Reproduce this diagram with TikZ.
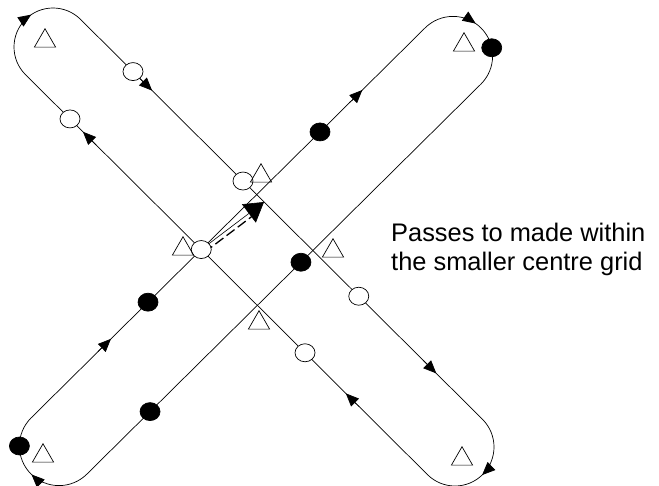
\documentclass[tikz,border=0pt]{standalone}
\usepackage{fontspec}
\setmainfont{Liberation Sans}
\usetikzlibrary{arrows.meta,calc,shapes.geometric}
\begin{document}
\begin{tikzpicture}[x=1bp,y=-1bp,
  loopline/.style={line width=0.7bp},
  opendot/.style={ellipse, draw, fill=white, line width=0.7bp, minimum width=20bp, minimum height=18bp, inner sep=0pt},
  filldot/.style={ellipse, draw, fill=black, line width=0.7bp, minimum width=20bp, minimum height=18bp, inner sep=0pt},
  cone/.style={regular polygon, regular polygon sides=3, draw, line width=0.7bp, minimum size=24.5bp, inner sep=0pt},
  flowtip/.style={-{Triangle[length=13bp,width=11bp]}, line width=0.7bp},
  lbl/.style={anchor=base west, inner sep=0pt, font=\fontsize{25.5}{30}\selectfont}
]
\useasboundingbox (0,0) rectangle (659,486);
% loop centres
\coordinate (C1) at (53,47);
\coordinate (C2) at (455,447);
\coordinate (C3) at (453,56);
\coordinate (C4) at (59,446);
\coordinate (A1s) at ($(C1)+(-45:39)$);
\coordinate (A1e) at ($(C2)+(-45:39)$);
\coordinate (A2s) at ($(C1)+(135:39)$);
\coordinate (A2e) at ($(C2)+(135:39)$);
\coordinate (B1s) at ($(C4)+(-135:39.6)$);
\coordinate (B1e) at ($(C3)+(-135:39.6)$);
\coordinate (B2s) at ($(C3)+(45:39.6)$);
\coordinate (B2e) at ($(C4)+(45:39.6)$);
% loops
\draw[loopline] (A1s) -- (A1e) arc[start angle=-45, end angle=135, radius=39] -- (A2s) arc[start angle=135, end angle=315, radius=39] -- cycle;
\draw[loopline] (B1s) -- (B1e) arc[start angle=-135, end angle=45, radius=39.6] -- (B2e) arc[start angle=45, end angle=225, radius=39.6] -- cycle;
% positions along lines
\path (A1s) -- (A1e)
  coordinate[pos=0.1304] (pA1a) coordinate[pos=0.404] (pA1b) coordinate[pos=0.692] (pA1c)
  coordinate[pos=0.145] (tA1a) coordinate[pos=0.178] (hA1a)
  coordinate[pos=0.852] (tA1b) coordinate[pos=0.885] (hA1b);
\path (A2s) -- (A2e)
  coordinate[pos=0.1109] (pA2a) coordinate[pos=0.6955] (pA2b)
  coordinate[pos=0.176] (tA2a) coordinate[pos=0.143] (hA2a)
  coordinate[pos=0.83] (tA2b) coordinate[pos=0.797] (hA2b);
\path (B1s) -- (B1e)
  coordinate[pos=0.297] (pB1a) coordinate[pos=0.7335] (pB1b)
  coordinate[pos=0.17] (tB1a) coordinate[pos=0.203] (hB1a)
  coordinate[pos=0.808] (tB1b) coordinate[pos=0.841] (hB1b);
\path (B2s) -- (B2e)
  coordinate[pos=0.457] (pB2a) coordinate[pos=0.84] (pB2b);
% flow arrows on lines
\draw[flowtip] (tA1a) -- (hA1a);
\draw[flowtip] (tA1b) -- (hA1b);
\draw[flowtip] (tA2a) -- (hA2a);
\draw[flowtip] (tA2b) -- (hA2b);
\draw[flowtip] (tB1a) -- (hB1a);
\draw[flowtip] (tB1b) -- (hB1b);
% flow arrows on the ends
\draw[flowtip] ($(C1)+(216:39)$) arc[start angle=216, end angle=236, radius=39];
\draw[flowtip] ($(C3)+(-74:39.6)$) arc[start angle=-74, end angle=-55, radius=39.6];
\draw[flowtip] ($(C2)+(26:39)$) arc[start angle=26, end angle=46, radius=39];
\draw[flowtip] ($(C4)+(114:39.6)$) arc[start angle=114, end angle=134, radius=39.6];
% centre arrow
\coordinate (oc4c) at (intersection of A2s--A2e and B1s--B1e);
\coordinate (ctip) at (264,202);
\draw[line width=0.6bp, -{Triangle[length=19bp,width=23bp]}] (oc4c) -- (ctip);
\draw[line width=1.3bp, dash pattern=on 10bp off 4bp, shorten >=19bp] ($(oc4c)+(3,3)$) -- ($(ctip)+(3,3)$);
% open dots
\node[opendot] (oc1) at (pA1a) {};
\node[opendot] (oc2) at (pA2a) {};
\node[opendot] (oc3) at (pA1b) {};
\node[opendot] (oc4) at (oc4c) {};
\node[opendot] (oc5) at (pA1c) {};
\node[opendot] (oc6) at (pA2b) {};
% filled dots
\node[filldot] (fc1) at ($(C3)+(-12:39.6)$) {};
\node[filldot] (fc2) at (pB1b) {};
\node[filldot] (fc3) at (pB2a) {};
\node[filldot] (fc4) at (pB1a) {};
\node[filldot] (fc5) at (pB2b) {};
\node[filldot] (fc6) at ($(C4)+(180:39.6)$) {};
% cones
\node[cone] (t1) at (45,41) {};
\node[cone] (t2) at (464,45) {};
\node[cone] (t3) at (261,176) {};
\node[cone] (t4) at (183,249) {};
\node[cone] (t5) at (333,251) {};
\node[cone] (t6) at (259,323) {};
\node[cone] (t7) at (43,456) {};
\node[cone] (t8) at (462,459) {};
% label
\node[lbl] (txt1) at (391,242) {Passes to made within};
\node[lbl] (txt2) at (391,270) {the smaller centre grid};
\end{tikzpicture}
\end{document}
